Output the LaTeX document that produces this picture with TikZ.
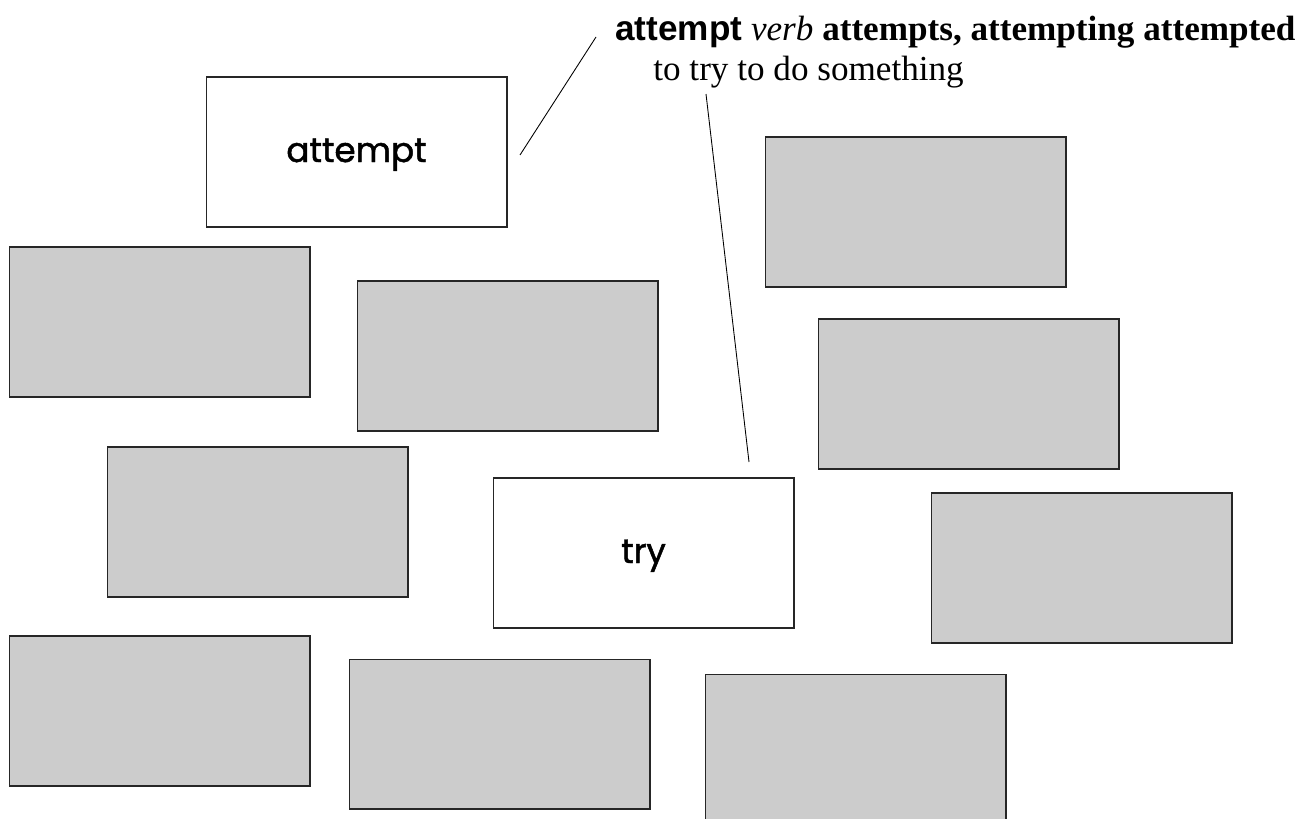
\documentclass[tikz,border=0pt]{standalone}
\usepackage{fontspec}
\setmainfont{Liberation Serif}
\newfontfamily\cardfont[FakeBold=1.4]{Poppins}
\newfontfamily\headfont{Liberation Sans}
\usetikzlibrary{positioning}

\begin{document}
\begin{tikzpicture}[x=0.02cm,y=-0.02cm,
        card/.style={draw=black!85,line width=0.6pt,minimum width=6.02cm,minimum height=3cm,inner sep=0pt,outer sep=0pt},
        word/.style={card,fill=white,font=\cardfont\fontsize{19.5}{23}\selectfont,text height=0.5cm,text depth=0.1cm},
        blank/.style={card,fill=black!20},
        defn/.style={inner sep=0pt,anchor=base west,font=\fontsize{20}{24}\selectfont}]
            \useasboundingbox (0,0) rectangle (1300,818);
            \node[word] (attempt) at (356.5,152) {attempt};
            \node[word] (try) at (643.5,553) {try};
            \node[blank] (g1) at (159.5,322) {};
            \node[blank] (g2) at (507.5,356) {};
            \node[blank] (g3) at (915.5,212) {};
            \node[blank] (g4) at (968.5,394) {};
            \node[blank] (g5) at (257.5,522) {};
            \node[blank] (g6) at (1081.5,568) {};
            \node[blank] (g7) at (159.5,711) {};
            \node[blank] (g8) at (499.5,734) {};
            \node[blank] (g9) at (855.5,749) {};
            \node[defn] (head) at (615,40) {{\headfont\bfseries attempt} \textit{verb} \textbf{attempts, attempting attempted}};
            \node[defn] (sense) at (653,80) {to try to do something};
            \coordinate (a1) at (520,155);
            \coordinate (a2) at (596,37);
            \coordinate (t1) at (706,94);
            \coordinate (t2) at (749,462);
            \draw[line width=0.5pt] (a1)--(a2);
            \draw[line width=0.5pt] (t1)--(t2);
        \end{tikzpicture}
\end{document}
